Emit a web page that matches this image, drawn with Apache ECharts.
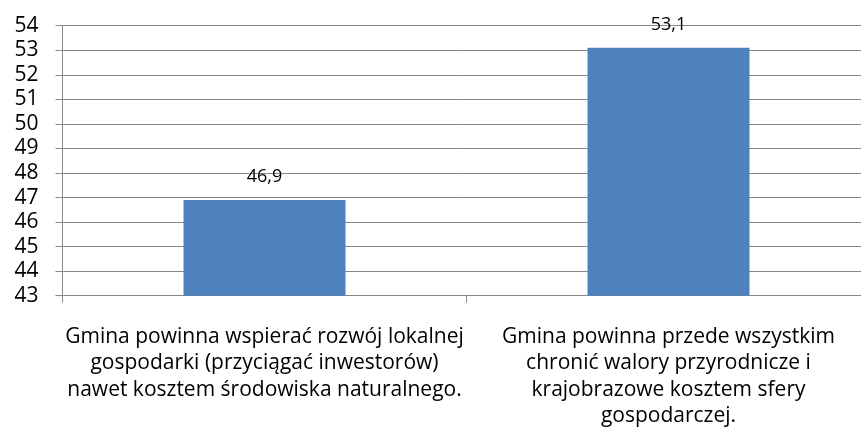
<!DOCTYPE html>
<html>
<head>
<meta charset="utf-8">
<script src="https://cdn.jsdelivr.net/npm/echarts@6/dist/echarts.min.js"></script>
<style>
  html, body { margin: 0; padding: 0; background: #fff; }
  #chart { width: 861px; height: 434px; }
</style>
</head>
<body>
<div id="chart"></div>
<script>
const categories = [
  "Gmina powinna wspierać rozwój lokalnej\ngospodarki (przyciągać inwestorów)\nnawet kosztem środowiska naturalnego.",
  "Gmina powinna przede wszystkim\nchronić walory przyrodnicze i\nkrajobrazowe kosztem sfery\ngospodarczej.",
];
const values = [46.9, 53.1];
const yTicks = { min: 43, max: 54, interval: 1 };

const chart = echarts.init(document.getElementById("chart"));
const font = "'Open Sans', 'Noto Sans', sans-serif";

chart.setOption({
  animation: false,
  grid: {
    left: 62.5,
    top: 25.7,
    width: 808,
    height: 270,
    containLabel: false,
    outerBoundsMode: "none",
  },
  xAxis: {
    type: "category",
    data: categories,
    axisLine: { lineStyle: { color: "#888", width: 1 } },
    axisTick: { show: true, length: 7, lineStyle: { color: "#888" } },
    axisLabel: {
      color: "#000",
      fontFamily: font,
      fontSize: 21,
      lineHeight: 26.5,
      margin: 28,
      interval: 0,
      align: "center",
    },
  },
  yAxis: {
    type: "value",
    min: yTicks.min,
    max: yTicks.max,
    interval: yTicks.interval,
    axisLine: { show: true, lineStyle: { color: "#888", width: 1 } },
    axisTick: { show: true, length: 7, lineStyle: { color: "#888" } },
    splitLine: { lineStyle: { color: "#888", width: 1 } },
    axisLabel: {
      color: "#000",
      fontFamily: font,
      fontSize: 21,
      margin: 24,
    },
  },
  series: [
    {
      type: "bar",
      data: values,
      barWidth: 162,
      itemStyle: { color: "#4f81bd" },
      label: {
        show: true,
        position: "top",
        distance: 14,
        color: "#000",
        fontFamily: font,
        fontSize: 18,
        formatter: (p) => String(p.value).replace(".", ","),
      },
    },
  ],
});
</script>
</body>
</html>
